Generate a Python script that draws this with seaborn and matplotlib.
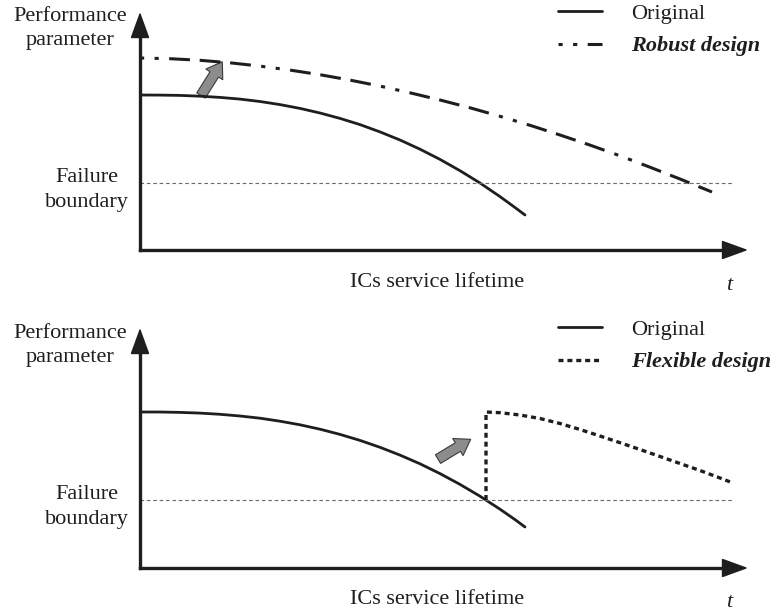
import numpy as np
import pandas as pd
import matplotlib
matplotlib.use("Agg")
import matplotlib.pyplot as plt
from matplotlib.patches import FancyArrow
import seaborn as sns

## chart values (time and performance in arbitrary units)
orig_t = [0, 20, 40, 60, 80, 100, 120, 140, 160, 180, 200, 220, 240, 260, 280, 300, 320, 340, 360, 375, 385]
orig_p = [155, 154.9, 154.6, 153.8, 152.6, 150.9, 148.5, 145.4, 141.6, 137, 131.6, 125.4, 118.1, 110,
          100.8, 90.6, 79.3, 67, 53.4, 42.5, 35]

robust_t = [0, 30, 60, 90, 120, 150, 180, 210, 240, 270, 300, 330, 360, 390, 420, 450, 480, 510, 540, 572]
robust_p = [192, 191.3, 189.7, 187.2, 183.9, 179.9, 175.3, 169.9, 163.9, 157.2, 150, 142.2, 133.7, 124.7,
            115, 104.9, 94.2, 82.8, 71, 58]

orig2_t = [0, 20, 40, 60, 80, 100, 120, 140, 160, 180, 200, 220, 240, 260, 280, 300, 320, 340, 360, 375, 385]
orig2_p = [156, 156, 155.6, 154.9, 153.7, 152, 149.8, 146.8, 143.2, 138.8, 133.6, 127.6, 120.7, 112.9,
           104.2, 94.4, 83.6, 71.8, 58.8, 48.4, 41]

flex_t = [346, 346, 360, 380, 400, 420, 440, 460, 480, 500, 520, 540, 560, 580, 593]
flex_p = [68, 156, 155.3, 153, 149.5, 144.5, 138.5, 132, 125.3, 118.5, 111.5, 104.5, 97.5, 90, 85]

boundary_top = 67
boundary_bottom = 68
boundary_end = [592, 593]

labels_top = ["Original", "Robust design"]
labels_bottom = ["Original", "Flexible design"]

## setup style
sns.set_theme(style="white")
plt.rcParams["font.family"] = ["Liberation Serif", "DejaVu Serif"]
plt.rcParams["lines.scale_dashes"] = False
ink = "#1e1e1e"

W, H = 780, 612
fig = plt.figure(figsize=(W / 100, H / 100), dpi=100)

def px_axes(left, right, top, bottom):
    return fig.add_axes([left / W, 1 - bottom / H, (right - left) / W, (bottom - top) / H])

ax1 = px_axes(140, 748, 12, 250)
ax2 = px_axes(140, 748, 328, 568)
ax1.set(xlim=(0, 608), ylim=(0, 238))
ax2.set(xlim=(0, 608), ylim=(0, 240))

for ax in (ax1, ax2):
    ax.set_facecolor("none")
    ax.set_xticks([])
    ax.set_yticks([])
    for side in ("top", "right"):
        ax.spines[side].set_visible(False)
    for side in ("left", "bottom"):
        ax.spines[side].set_linewidth(2.4)
        ax.spines[side].set_color(ink)
    ax.spines["left"].set_bounds(0, ax.get_ylim()[1] - 12)
    ax.spines["bottom"].set_bounds(0, 596)
    ## arrow heads on both axes
    for tip, tail in (((0, 1), (0, 0.9)), ((1, 0), (0.97, 0))):
        ax.annotate("", xy=tip, xytext=tail, xycoords="axes fraction",
                    arrowprops=dict(arrowstyle="-|>,head_length=1.65,head_width=0.6",
                                    mutation_scale=10, lw=1.2, color=ink,
                                    shrinkA=0, shrinkB=0))

## top panel curves
sns.lineplot(x=orig_t, y=orig_p, ax=ax1, color=ink, lw=2.0, estimator=None, sort=False, label=labels_top[0])
l_orig1 = ax1.lines[-1]
sns.lineplot(x=robust_t, y=robust_p, ax=ax1, color=ink, lw=2.2, estimator=None, sort=False, label=labels_top[1])
l_rob = ax1.lines[-1]
l_rob.set_dashes([3, 7.5, 3, 7.5, 15, 7, 15, 7, 15, 7.5])
ax1.hlines(boundary_top, 0, boundary_end[0], colors="#6a6a6a", lw=0.8, linestyles=(0, (2.6, 2.0)))

## bottom panel curves
sns.lineplot(x=orig2_t, y=orig2_p, ax=ax2, color=ink, lw=2.0, estimator=None, sort=False, label=labels_bottom[0])
l_orig2 = ax2.lines[-1]
sns.lineplot(x=flex_t, y=flex_p, ax=ax2, color=ink, lw=2.4, estimator=None, sort=False, label=labels_bottom[1])
l_flex = ax2.lines[-1]
l_flex.set_dashes([3.6, 2.8])
ax2.hlines(boundary_bottom, 0, boundary_end[1], colors="#6a6a6a", lw=0.8, linestyles=(0, (2.6, 2.0)))

## grey improvement arrows
for ax, (x0, y0, dx, dy) in ((ax1, (61, 154.5, 21.3, 33.8)), (ax2, (298, 108.9, 32.7, 19.8))):
    ax.add_patch(FancyArrow(x0, y0, dx, dy, width=10, head_width=20, head_length=15,
                            length_includes_head=True, fc="#8c8c8c", ec="#3a3a3a", lw=0.8))

## legends
for ax, handles, labels, y_top in ((ax1, [l_orig1, l_rob], labels_top, 3),
                                   (ax2, [l_orig2, l_flex], labels_bottom, 319)):
    leg = ax.legend(handles=handles, labels=labels, loc="upper left",
                    bbox_to_anchor=(558 / W, 1 - y_top / H), bbox_transform=fig.transFigure,
                    frameon=False, borderpad=0, borderaxespad=0, handlelength=2.0,
                    handletextpad=1.3, labelspacing=0.55, fontsize=16)
    for txt in leg.get_texts():
        txt.set_color(ink)
    leg.get_texts()[1].set_fontweight("bold")
    leg.get_texts()[1].set_fontstyle("italic")

## axis texts
def ftext(x, y, s, **kw):
    fig.text(x / W, 1 - y / H, s, fontsize=16, color=ink, va="baseline", **kw)

for off in (0, 317):
    ftext(70, 21 + off, "Performance", ha="center")
    ftext(70, 45 + off, "parameter", ha="center")
    ftext(87, 182 + off, "Failure", ha="center")
    ftext(87, 207 + off, "boundary", ha="center")
    ftext(437, 287 + off, "ICs service lifetime", ha="center")
    ftext(729, 290 + off, "t", ha="center", style="italic")

fig.savefig("out.png", dpi=100)
